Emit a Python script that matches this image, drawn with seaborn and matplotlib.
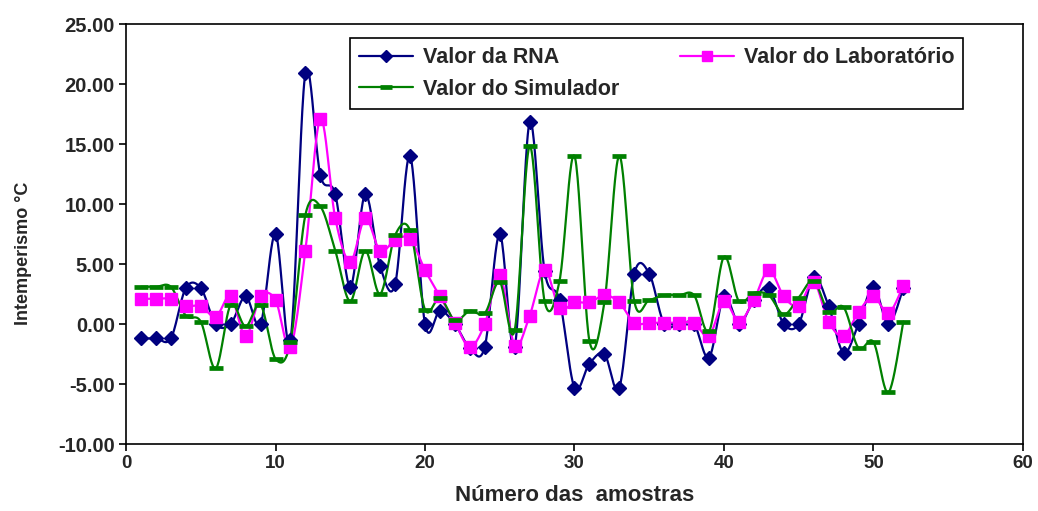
import numpy as np
import pandas as pd
import matplotlib
matplotlib.use("Agg")
import matplotlib.pyplot as plt
from matplotlib.lines import Line2D
import seaborn as sns

# Sample numbers and the three series of weathering values (°C)
amostras = list(range(1, 53))
valor_rna = [-1.2, -1.2, -1.2, 3.0, 3.0, 0.0, 0.0, 2.3, 0.0, 7.5,
             -1.3, 20.9, 12.4, 10.8, 3.1, 10.8, 4.8, 3.3, 14.0, 0.0,
             1.1, 0.0, -2.0, -1.9, 7.5, -1.9, 16.8, 4.4, 2.0, -5.3,
             -3.3, -2.5, -5.3, 4.2, 4.2, 0.0, 0.0, 0.0, -2.8, 2.3,
             0.0, 2.0, 3.0, 0.0, 0.0, 3.9, 1.5, -2.4, 0.0, 3.1,
             0.0, 3.0]
valor_lab = [2.1, 2.1, 2.1, 1.5, 1.5, 0.6, 2.3, -1.0, 2.3, 2.0,
             -1.9, 6.1, 17.1, 8.8, 5.2, 8.8, 6.1, 7.0, 7.1, 4.5,
             2.3, 0.1, -1.9, 0.0, 4.1, -1.8, 0.7, 4.5, 1.3, 1.8,
             1.8, 2.4, 1.8, 0.1, 0.1, 0.1, 0.1, 0.1, -1.0, 1.9,
             0.2, 2.0, 4.5, 2.3, 1.5, 3.5, 0.2, -1.0, 1.0, 2.3,
             0.9, 3.2]
valor_sim = [3.1, 3.1, 3.1, 0.7, 0.2, -3.7, 1.6, -0.2, 1.6, -2.9,
             -1.5, 9.1, 9.8, 6.1, 1.9, 6.1, 2.5, 7.4, 7.8, 1.2,
             2.2, 0.3, 1.1, 0.9, 3.5, -0.5, 14.8, 1.9, 3.6, 14.0,
             -1.4, 1.8, 14.0, 1.9, 2.0, 2.4, 2.4, 2.4, -0.6, 5.6,
             1.9, 2.6, 2.4, 0.8, 2.2, 3.6, 1.0, 1.4, -2.0, -1.5,
             -5.7, 0.2]

y_ticks = [-10, -5, 0, 5, 10, 15, 20, 25]
x_ticks = [0, 10, 20, 30, 40, 50, 60]

nomes = ["Valor da RNA", "Valor do Laboratório", "Valor do Simulador"]
cores = ["#000080", "#FF00FF", "#008000"]


def suavizar(x, y, n=24):
    """Catmull-Rom style smoothed curve through the points (Bezier segments)."""
    p = np.column_stack([x, y]).astype(float)
    ext = np.vstack([p[0], p, p[-1]])
    t = np.linspace(0, 1, n, endpoint=False)[:, None]
    pts = []
    for i in range(len(p) - 1):
        p0, p1, p2, p3 = ext[i], ext[i + 1], ext[i + 2], ext[i + 3]
        c1 = p1 + (p2 - p0) / 6.0
        c2 = p2 - (p3 - p1) / 6.0
        seg = ((1 - t) ** 3) * p1 + 3 * ((1 - t) ** 2) * t * c1 \
            + 3 * (1 - t) * t ** 2 * c2 + t ** 3 * p2
        pts.append(seg)
    pts.append(p[-1][None, :])
    pts = np.vstack(pts)
    return pts[:, 0], pts[:, 1]


sns.set_theme(style="white")
plt.rcParams["font.family"] = ["Liberation Sans", "DejaVu Sans"]

fig = plt.figure(figsize=(10.38, 5.11), dpi=100)
ax = fig.add_axes([0.1214, 0.1311, 0.8641, 0.8219])

series = [valor_rna, valor_lab, valor_sim]
estilos = [
    dict(marker="D", ms=6.8, mew=1.0),
    dict(marker="s", ms=8.6, mew=1.0),
    dict(marker="_", ms=10.5, mew=3.4),
]

handles = []
for nome, valores, cor, est in zip(nomes, series, cores, estilos):
    xs, ys = suavizar(amostras, valores)
    curva = pd.DataFrame({"x": xs, "y": ys})
    sns.lineplot(data=curva, x="x", y="y", ax=ax, color=cor, lw=1.6,
                 sort=False, estimator=None, zorder=2)
    pontos = pd.DataFrame({"amostra": amostras, "valor": valores})
    ax.plot(pontos["amostra"], pontos["valor"], ls="none", color=cor,
            mfc=cor, mec=cor, zorder=3, **est)
    handles.append(Line2D([], [], color=cor, lw=1.6, mfc=cor, mec=cor,
                          **{k: (v * 0.85 if k == "ms" else v) for k, v in est.items()}))

ax.set_xlim(0, 60)
ax.set_ylim(-10, 25)
ax.set_xticks(x_ticks)
ax.set_yticks(y_ticks)
ax.set_xticklabels([str(v) for v in x_ticks], fontsize=13.5, fontweight="bold")
ax.set_yticklabels([f"{v:.2f}" for v in y_ticks], fontsize=14.5, fontweight="bold")
ax.tick_params(axis="both", direction="out", length=5, width=1.2,
               color="black", left=True, bottom=True, pad=3)

for sp in ax.spines.values():
    sp.set_visible(True)
    sp.set_color("black")
    sp.set_linewidth(1.2)
ax.grid(False)

ax.set_ylabel("Intemperismo °C", fontsize=13, fontweight="bold")
ax.yaxis.set_label_coords(-0.105, 0.455)
ax.set_xlabel("Número das  amostras", fontsize=16, fontweight="bold")
ax.xaxis.set_label_coords(0.5, -0.097)

# legend laid out row-wise: RNA | Laboratório, then Simulador
ordem = [0, 2, 1]
leg = ax.legend([handles[i] for i in ordem], [nomes[i] for i in ordem],
                ncol=2, loc="upper left", bbox_to_anchor=(0.2497, 0.9667),
                borderaxespad=0, frameon=True, fancybox=False, shadow=False,
                handlelength=2.5, columnspacing=2.85, handletextpad=0.45,
                borderpad=0.42, labelspacing=0.5,
                prop=dict(size=15.5, weight="bold"))
leg.get_frame().set_edgecolor("black")
leg.get_frame().set_linewidth(1.2)
leg.get_frame().set_alpha(1)

fig.savefig("out.png", dpi=100)
